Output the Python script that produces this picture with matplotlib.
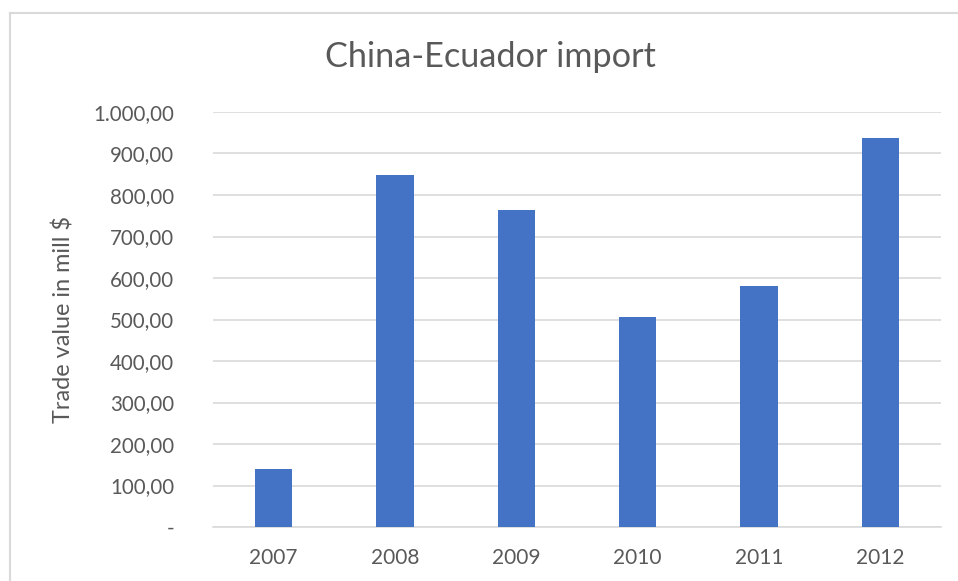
import matplotlib.pyplot as plt
from matplotlib.lines import Line2D

# dados do gráfico
anos = ["2007", "2008", "2009", "2010", "2011", "2012"]
importacao = [140.5, 849.0, 764.0, 506.0, 580.0, 938.0]
ticks_y = [0, 100, 200, 300, 400, 500, 600, 700, 800, 900, 1000]
rotulos_y = ["-", "100,00", "200,00", "300,00", "400,00", "500,00",
             "600,00", "700,00", "800,00", "900,00", "1.000,00"]

cor_texto = "#595959"
plt.rcParams['font.family'] = ['Lato', 'DejaVu Sans']

fig = plt.figure(figsize=(9.58, 5.81), dpi=100)
ax = fig.add_axes([213 / 958, 1 - 527 / 581, 728 / 958, 415 / 581])

x = range(len(anos))
ax.bar(x, importacao, width=0.31, color="#4472C4", zorder=3)

ax.set_xlim(-0.5, len(anos) - 0.5)
ax.set_ylim(0, 1000)
ax.set_xticks(list(x))
ax.set_xticklabels(anos, fontsize=15, color=cor_texto)
ax.set_yticks(ticks_y)
ax.set_yticklabels(rotulos_y, fontsize=14.8, color=cor_texto)
ax.tick_params(length=0)
ax.tick_params(axis='y', pad=28)
ax.tick_params(axis='x', pad=15)

ax.grid(axis='y', color="#d9d9d9", linewidth=1.2, zorder=0)
for lado in ["top", "right", "left"]:
    ax.spines[lado].set_visible(False)
ax.spines["bottom"].set_color("#d9d9d9")
ax.spines["bottom"].set_linewidth(1.2)

ax.set_ylabel("Trade value in mill $", fontsize=16.9, color=cor_texto)
ax.yaxis.set_label_coords(-0.19, 0.5)

fig.text(490 / 958, 1 - 57 / 581, "China-Ecuador import", fontsize=24.7,
         color=cor_texto, ha='center', va='center')

# borda do gráfico (só esquerda e topo visíveis)
fig.add_artist(Line2D([10 / 958, 10 / 958], [0, 1 - 13 / 581],
                      transform=fig.transFigure, color="#d9d9d9", linewidth=1.5))
fig.add_artist(Line2D([10 / 958, 1], [1 - 13 / 581, 1 - 13 / 581],
                      transform=fig.transFigure, color="#d9d9d9", linewidth=1.5))

fig.savefig("out.png", dpi=100)
